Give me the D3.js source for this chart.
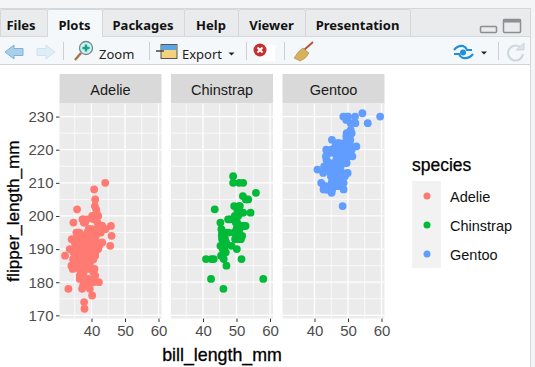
<!DOCTYPE html>
<html>
<head>
<meta charset="utf-8">
<script src="https://cdn.jsdelivr.net/npm/d3@7"></script>
<style>
  html, body { margin: 0; padding: 0; background: #fff; overflow: hidden; }
  svg { display: block; }
</style>
</head>
<body>
<svg id="chart" width="535" height="367"></svg>
<script>
const species = ["Adelie", "Chinstrap", "Gentoo"];
const colors = ["#ff7a72", "#00ba38", "#619cff"];
const tabNames = ["Files", "Plots", "Packages", "Help", "Viewer", "Presentation"];
const xTicks = [40, 50, 60];
const xMinor = [35, 45, 55];
const yTicks = [170, 180, 190, 200, 210, 220, 230];
const yMinor = [175, 185, 195, 205, 215, 225];

// [bill_length_mm, flipper_length_mm]
const adelie = [[39.1,181],[39.5,186],[40.3,195],[36.7,193],[39.3,190],[38.9,181],[39.2,195],[34.1,193],[42,190],[37.8,186],[37.8,180],[41.1,182],[38.6,191],[34.6,198],[36.6,185],[38.7,195],[42.5,197],[34.4,184],[46,194],[37.8,174],[37.7,180],[35.9,189],[38.2,185],[38.8,180],[35.3,187],[40.6,183],[40.5,187],[37.9,172],[40.5,180],[39.5,178],[37.2,178],[39.5,188],[40.9,184],[36.4,195],[39.2,196],[38.8,190],[42.2,180],[37.6,181],[39.8,184],[36.5,182],[40.8,195],[36,186],[44.1,196],[37,185],[39.6,190],[37.5,179],[36,190],[42.3,191],[40.1,188],[35,190],[42,200],[34.5,187],[41.4,191],[39,186],[40.6,193],[36.5,181],[37.6,194],[35.7,185],[41.3,195],[37.6,185],[41.1,192],[36.4,184],[41.6,192],[35.5,195],[41.1,188],[35.9,190],[41.8,198],[33.5,190],[39.7,190],[39.6,196],[45.8,197],[35.5,190],[42.8,195],[40.9,191],[37.2,184],[36.2,187],[42.1,195],[34.6,189],[42.9,196],[36.7,187],[35.1,193],[37.3,191],[41.3,194],[36.3,190],[36.9,189],[38.3,189],[38.9,190],[35.7,202],[41.1,205],[34,185],[39.6,186],[40.8,208],[38.1,190],[40.3,196],[33.1,178],[43.2,192],[35,192],[41,203],[37.7,183],[37.8,190],[37.9,193],[39.7,184],[38.6,199],[38.2,190],[38.1,181],[43.2,197],[38.1,198],[45.6,191],[39.7,193],[42.2,197],[39.6,191],[42.7,196],[38.6,188],[37.3,199],[35.7,189],[41.1,189],[37.7,198],[40.2,176],[41.4,202],[35.2,186],[40.6,199],[38.8,191],[41.5,195],[39,191],[44.1,210],[38.5,190],[43.1,197],[36.8,193],[37.5,199],[38.1,187],[41.1,190],[35.6,191],[40.2,200],[37,185],[40.2,193],[40.6,187],[32.1,188],[40.7,190],[37.3,192],[39,185],[39.2,190],[36.6,184],[36,195],[37.8,193],[36,187],[41.5,201]];
const chinstrap = [[46.5,192],[50,196],[51.3,193],[45.4,188],[52.7,197],[45.2,198],[46.1,178],[51.3,197],[46,195],[46.6,193],[51.7,194],[47,185],[52,201],[45.9,190],[50.5,201],[50.3,197],[58,181],[46.4,190],[49.2,195],[42.4,181],[48.5,191],[43.2,187],[50.6,193],[46.7,195],[52,197],[50.5,200],[49.5,200],[46.4,191],[52.8,205],[40.9,187],[54.2,201],[42.5,187],[51,203],[49.7,195],[47.5,199],[47.6,195],[52,210],[46.9,192],[53.5,205],[49,210],[46.2,187],[50.9,196],[45.5,196],[50.8,201],[50.1,190],[49,212],[51.5,187],[49.8,198],[48.1,199],[51.4,201],[45.7,193],[50.7,203],[52.2,197],[45.2,191],[49.3,203],[50.2,202],[45.6,194],[51.9,206],[46.8,189],[45.7,195],[55.8,207],[43.5,202],[49.6,193],[50.8,210],[50.2,198]];
const gentoo = [[46.1,211],[50,230],[48.7,210],[50,218],[47.6,215],[46.5,210],[45.4,211],[46.7,219],[43.3,209],[46.8,215],[40.9,214],[49,216],[45.5,214],[48.4,213],[45.8,210],[49.3,217],[42,210],[49.2,221],[46.2,209],[48.7,222],[50.2,218],[45.1,215],[46.5,213],[46.3,215],[42.9,215],[46.1,215],[44.5,216],[47.8,215],[48.2,210],[50,220],[47.3,222],[42.8,209],[45.1,207],[59.6,230],[49.1,220],[48.4,220],[42.6,213],[44.4,219],[44,208],[48.7,208],[42.7,208],[49.6,225],[45.3,210],[49.6,216],[50.5,222],[43.6,217],[50.5,225],[44.9,213],[45.2,215],[46.6,210],[48.5,220],[45.1,210],[50.1,225],[46.5,217],[45,220],[43.8,208],[45.5,220],[43.2,208],[50.4,224],[45.3,208],[46.2,221],[45.7,214],[54.3,231],[45.8,219],[49.8,230],[46.2,214],[49.5,229],[43.5,220],[50.7,223],[47.7,216],[46.4,221],[48.2,221],[46.4,216],[48.6,230],[47.5,209],[51.1,220],[45.2,215],[45.2,223],[49.1,212],[52.5,221],[47.4,212],[50,224],[44.9,212],[50.8,228],[43.4,218],[51.3,218],[47.5,212],[52.1,230],[47.5,218],[52.2,228],[45.5,212],[49.5,224],[44.5,214],[50.8,226],[49.4,216],[46.9,222],[48.4,203],[51.1,225],[48.5,219],[55.9,228],[47.2,214],[46.8,215],[50.4,222],[45.2,212],[49.9,213]];
const points = [adelie, chinstrap, gentoo];

const svg = d3.select("#chart");
const plotFont = "'Liberation Sans', Arial, sans-serif";
const uiFont = "'Noto Sans', 'Open Sans', sans-serif";

const panelLeft = [59.5, 171, 282.5];
const panelW = 102;
const panelTop = 103.5, panelBottom = 318.5;

const y = d3.scaleLinear().domain([169.05, 233.95]).range([panelBottom, panelTop]);
const color = d3.scaleOrdinal().domain(species).range(colors);

drawChrome();
drawPanels();
drawLegend();

function drawPanels() {
    species.forEach((name, i) => {
        const x = d3.scaleLinear().domain([30.45, 60.9]).range([panelLeft[i], panelLeft[i] + panelW]);
        const g = svg.append("g");

        // strip
        g.append("rect").attr("x", panelLeft[i]).attr("y", 74).attr("width", panelW).attr("height", panelTop - 74).attr("fill", "#d9d9d9");
        g.append("text").attr("x", panelLeft[i] + panelW / 2).attr("y", 94.5)
            .attr("text-anchor", "middle").attr("font-family", plotFont).attr("font-size", 14.5)
            .attr("fill", "#1a1a1a").text(name);

        g.append("rect").attr("x", panelLeft[i]).attr("y", panelTop).attr("width", panelW).attr("height", panelBottom - panelTop).attr("fill", "#ebebeb");

        // grid
        g.selectAll(".ymin").data(yMinor).join("line").attr("x1", panelLeft[i]).attr("x2", panelLeft[i] + panelW)
            .attr("y1", d => y(d)).attr("y2", d => y(d)).attr("stroke", "#fff").attr("stroke-width", 0.7);
        g.selectAll(".xmin").data(xMinor).join("line").attr("y1", panelTop).attr("y2", panelBottom)
            .attr("x1", d => x(d)).attr("x2", d => x(d)).attr("stroke", "#fff").attr("stroke-width", 0.7);
        g.selectAll(".ymaj").data(yTicks).join("line").attr("x1", panelLeft[i]).attr("x2", panelLeft[i] + panelW)
            .attr("y1", d => y(d)).attr("y2", d => y(d)).attr("stroke", "#fff").attr("stroke-width", 1.3);
        g.selectAll(".xmaj").data(xTicks).join("line").attr("y1", panelTop).attr("y2", panelBottom)
            .attr("x1", d => x(d)).attr("x2", d => x(d)).attr("stroke", "#fff").attr("stroke-width", 1.3);

        g.append("g").selectAll("circle").data(points[i]).join("circle")
            .attr("cx", d => x(d[0])).attr("cy", d => y(d[1])).attr("r", 3.9)
            .attr("fill", color(name));

        // x axis
        const ax = g.append("g").attr("transform", `translate(0,${panelBottom})`)
            .call(d3.axisBottom(x).tickValues(xTicks).tickSize(3.5).tickPadding(3));
        ax.select(".domain").remove();
        ax.selectAll("line").attr("stroke", "#333");
        ax.selectAll("text").attr("font-family", plotFont).attr("font-size", 15).attr("fill", "#4d4d4d");
    });

    const ay = svg.append("g").attr("transform", `translate(${panelLeft[0]},0)`)
        .call(d3.axisLeft(y).tickValues(yTicks).tickSize(3.5).tickPadding(2.5));
    ay.select(".domain").remove();
    ay.selectAll("line").attr("stroke", "#333");
    ay.selectAll("text").attr("font-family", plotFont).attr("font-size", 15).attr("fill", "#4d4d4d");

    svg.append("text").attr("x", 222).attr("y", 361).attr("text-anchor", "middle")
        .attr("font-family", plotFont).attr("font-size", 17.8).attr("fill", "#000")
        .attr("stroke", "#000").attr("stroke-width", 0.3).text("bill_length_mm");
    svg.append("text").attr("transform", "translate(19,211) rotate(-90)").attr("text-anchor", "middle")
        .attr("font-family", plotFont).attr("font-size", 17.2).attr("fill", "#000")
        .attr("stroke", "#000").attr("stroke-width", 0.3).text("flipper_length_mm");
}

function drawLegend() {
    const ly = d3.scalePoint().domain(species).range([196, 254]);
    const g = svg.append("g");
    g.append("text").attr("x", 412).attr("y", 171).attr("font-family", plotFont).attr("font-size", 17.5)
        .attr("stroke", "#000").attr("stroke-width", 0.25).attr("fill", "#000").text("species");
    g.append("rect").attr("x", 412).attr("y", 181).attr("width", 29).attr("height", 87).attr("fill", "#f2f2f2");
    g.selectAll("circle").data(species).join("circle")
        .attr("cx", 427).attr("cy", d => ly(d)).attr("r", 3.5).attr("fill", d => color(d));
    g.selectAll("text.lab").data(species).join("text").attr("class", "lab")
        .attr("x", 450).attr("y", d => ly(d) + 5.5).attr("font-family", plotFont).attr("font-size", 14.5)
        .attr("fill", "#111").text(d => d);
}

function drawChrome() {
    // window background and edges
    svg.append("rect").attr("width", 535).attr("height", 9).attr("fill", "#f3f5f7");
    svg.append("rect").attr("y", 9).attr("width", 531).attr("height", 28).attr("fill", "#e9ebed");
    svg.append("rect").attr("y", 37).attr("width", 531).attr("height", 27).attr("fill", "#f5f8fa");
    svg.append("rect").attr("x", 531).attr("width", 4).attr("height", 367).attr("fill", "#f3f5f7");
    svg.append("line").attr("x1", 0).attr("x2", 531).attr("y1", 8.5).attr("y2", 8.5).attr("stroke", "#d5d8da");
    svg.append("line").attr("x1", 0).attr("x2", 531).attr("y1", 64.5).attr("y2", 64.5).attr("stroke", "#d0d4d7");
    svg.append("line").attr("x1", 530.5).attr("x2", 530.5).attr("y1", 9).attr("y2", 367).attr("stroke", "#d5d8da");

    // tabs
    const tabEdges = [0, 47, 102, 184, 238, 305, 410];
    const tabs = svg.append("g");
    tabs.selectAll("path").data(tabNames).join("path")
        .attr("d", (d, i) => `M${tabEdges[i] + .5},37V11.5q0,-2 2,-2H${tabEdges[i + 1] - 1.5}q2,0 2,2V37`)
        .attr("fill", (d, i) => i == 1 ? "#f5f8fa" : "#e9ebed")
        .attr("stroke", "#d5d8da");
    tabs.selectAll("text").data(tabNames).join("text")
        .attr("x", (d, i) => (tabEdges[i] + tabEdges[i + 1]) / 2 + (i == 0 ? -2.5 : 0)).attr("y", 30)
        .attr("text-anchor", "middle").attr("font-family", uiFont).attr("font-weight", 700)
        .attr("font-size", 13).attr("fill", "#111").text(d => d);
    svg.append("line").attr("x1", 0).attr("x2", 47).attr("y1", 36.5).attr("y2", 36.5).attr("stroke", "#d5d8da");
    svg.append("line").attr("x1", 102).attr("x2", 531).attr("y1", 36.5).attr("y2", 36.5).attr("stroke", "#d5d8da");

    // minimize / maximize
    svg.append("rect").attr("x", 480.5).attr("y", 26.5).attr("width", 16).attr("height", 6).attr("rx", 1)
        .attr("fill", "#e9ebed").attr("stroke", "#8c9094").attr("stroke-width", 1.5);
    svg.append("rect").attr("x", 503.5).attr("y", 19.5).attr("width", 17).attr("height", 13).attr("rx", 1)
        .attr("fill", "#e9ebed").attr("stroke", "#8c9094").attr("stroke-width", 1.5);
    svg.append("rect").attr("x", 503).attr("y", 19).attr("width", 18).attr("height", 3.5).attr("fill", "#8c9094");

    // back / forward arrows
    svg.append("path").attr("d", "M5,52 L14,45 V48.5 H23 V55.5 H14 V59 Z").attr("fill", "#a9d0ea").attr("stroke", "#7fb2d4");
    svg.append("path").attr("d", "M55,52 L46,45 V48.5 H37 V55.5 H46 V59 Z").attr("fill", "#dfedf6").attr("stroke", "#cfe2ee");

    const sep = [63, 149, 246, 284, 498];
    svg.selectAll(".sep").data(sep).join("line").attr("x1", d => d + .5).attr("x2", d => d + .5)
        .attr("y1", 42).attr("y2", 60).attr("stroke", "#ccd0d3");

    // zoom icon
    svg.append("line").attr("x1", 75).attr("y1", 60).attr("x2", 81).attr("y2", 53).attr("stroke", "#a9764a").attr("stroke-width", 2.5);
    svg.append("circle").attr("cx", 86).attr("cy", 48).attr("r", 6.5).attr("fill", "#d5f0ec").attr("stroke", "#6f8a8f").attr("stroke-width", 1.3);
    svg.append("path").attr("d", "M86,44.5V51.5M82.5,48H89.5").attr("stroke", "#0aa58c").attr("stroke-width", 2.4);
    svg.append("text").attr("x", 99).attr("y", 59).attr("font-family", uiFont).attr("font-size", 13).attr("fill", "#222").text("Zoom");

    // export icon
    svg.append("rect").attr("x", 161).attr("y", 44.5).attr("width", 16).attr("height", 14).attr("fill", "#f2d27e").attr("stroke", "#555");
    svg.append("rect").attr("x", 161.5).attr("y", 45).attr("width", 15).attr("height", 5).attr("fill", "#5aa5e2");
    svg.append("path").attr("d", "M156,51H164").attr("stroke", "#444").attr("stroke-width", 1.5);
    svg.append("text").attr("x", 182).attr("y", 59).attr("font-family", uiFont).attr("font-size", 13).attr("fill", "#222").text("Export");
    svg.append("path").attr("d", "M228.5,52.5h6l-3,3z").attr("fill", "#222");

    // clear icon
    svg.append("rect").attr("x", 260).attr("y", 45).attr("width", 15).attr("height", 16).attr("fill", "#fff");
    svg.append("circle").attr("cx", 260).attr("cy", 50).attr("r", 6.5).attr("fill", "#c62f2f");
    svg.append("path").attr("d", "M257.5,47.5l5,5M262.5,47.5l-5,5").attr("stroke", "#fff").attr("stroke-width", 2);

    // broom icon
    svg.append("line").attr("x1", 304).attr("y1", 50).attr("x2", 313).attr("y2", 42).attr("stroke", "#b5533c").attr("stroke-width", 2);
    svg.append("path").attr("d", "M294,58 Q299,50 303,48 L309,53 Q306,59 300,61 Z").attr("fill", "#d6b25e").attr("stroke", "#a8893f").attr("stroke-width", .6);

    // sync icon
    svg.append("circle").attr("cx", 463).attr("cy", 52.5).attr("r", 3).attr("fill", "#1e8fe0");
    svg.append("path").attr("d", "M454,50 q4,-5 9,-4 q3,1 4,4 h5 M473,54 q-4,5 -10,4 q-3,-1 -4,-4 h-5")
        .attr("fill", "none").attr("stroke", "#1e8fe0").attr("stroke-width", 2.2);
    svg.append("path").attr("d", "M481,51.5h6l-3,3z").attr("fill", "#222");

    // refresh icon
    svg.append("path").attr("d", "M520,47 a7.5,7.5 0 1 0 3,7").attr("fill", "none").attr("stroke", "#ccd6dc").attr("stroke-width", 2);
    svg.append("path").attr("d", "M516,50h8v-7z").attr("fill", "#dde4e8").attr("stroke", "#ccd6dc");
}
</script>
</body>
</html>
